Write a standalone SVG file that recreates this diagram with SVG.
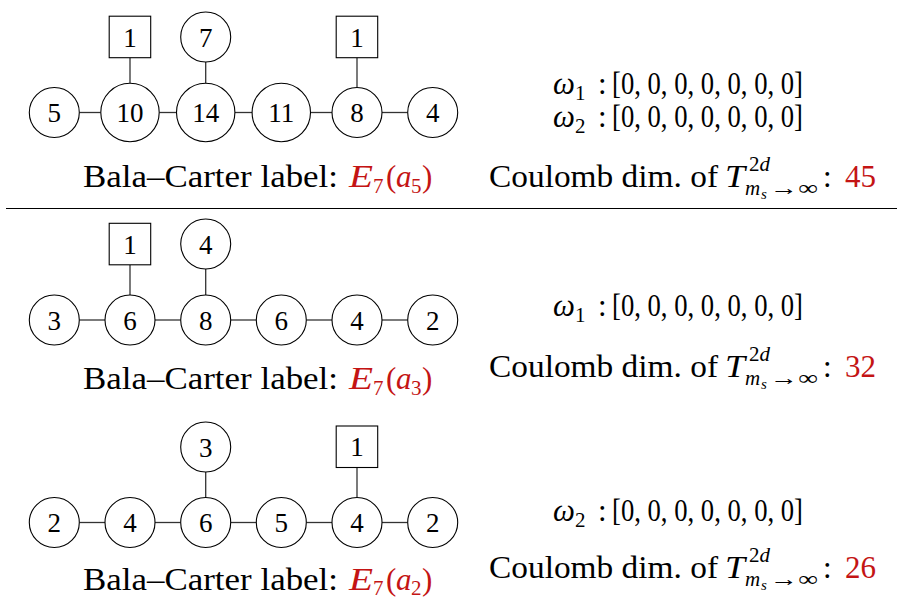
<svg xmlns="http://www.w3.org/2000/svg" width="897" height="600" viewBox="0 0 897 600">
<style>
  text { font-family: "Liberation Serif", "DejaVu Serif", serif; fill: #000; }
  .n { font-size: 27px; text-anchor: middle; }
  .c { fill: #fff; stroke: #000; stroke-width: 1.1; }
  .e { stroke: #333; stroke-width: 1.3; fill: none; }
  .t { font-size: 31px; }
  .m { font-size: 31px; font-style: italic; }
  .s { font-size: 21px; }
  .si { font-size: 21px; font-style: italic; }
  .ss { font-size: 15px; font-style: italic; }
  .red { fill: #c41414; }
</style>
<rect width="897" height="600" fill="#fff"/>

<!-- connectors -->
<g id="connectors">
  <!-- section 1 -->
  <line class="e" x1="79.3" y1="112.5" x2="100.8" y2="112.5"/>
  <line class="e" x1="159.2" y1="112.5" x2="176.5" y2="112.5"/>
  <line class="e" x1="234.9" y1="112.5" x2="252.1" y2="112.5"/>
  <line class="e" x1="310.5" y1="112.5" x2="332" y2="112.5"/>
  <line class="e" x1="382" y1="112.5" x2="407.7" y2="112.5"/>
  <line class="e" x1="130" y1="57.7" x2="130" y2="83.3"/>
  <line class="e" x1="205.7" y1="62" x2="205.7" y2="83.3"/>
  <line class="e" x1="357" y1="57.7" x2="357" y2="87.5"/>
  <!-- section 2 -->
  <line class="e" x1="79.3" y1="320" x2="105" y2="320"/>
  <line class="e" x1="155" y1="320" x2="180.7" y2="320"/>
  <line class="e" x1="230.7" y1="320" x2="256.3" y2="320"/>
  <line class="e" x1="306.3" y1="320" x2="332" y2="320"/>
  <line class="e" x1="382" y1="320" x2="407.7" y2="320"/>
  <line class="e" x1="130" y1="265" x2="130" y2="295"/>
  <line class="e" x1="205.7" y1="269" x2="205.7" y2="295"/>
  <!-- section 3 -->
  <line class="e" x1="79.3" y1="522.5" x2="105" y2="522.5"/>
  <line class="e" x1="155" y1="522.5" x2="180.7" y2="522.5"/>
  <line class="e" x1="230.7" y1="522.5" x2="256.3" y2="522.5"/>
  <line class="e" x1="306.3" y1="522.5" x2="332" y2="522.5"/>
  <line class="e" x1="382" y1="522.5" x2="407.7" y2="522.5"/>
  <line class="e" x1="205.7" y1="472" x2="205.7" y2="497.5"/>
  <line class="e" x1="357" y1="467.7" x2="357" y2="497.5"/>
</g>

<!-- section 1 nodes -->
<g id="s1-n5"><circle class="c" cx="54.3" cy="112.5" r="25"/><text class="n" x="54.3" y="122">5</text></g>
<g id="s1-n10"><circle class="c" cx="130" cy="112.5" r="29.2"/><text class="n" x="130" y="122">10</text></g>
<g id="s1-n14"><circle class="c" cx="205.7" cy="112.5" r="29.2"/><text class="n" x="205.7" y="122">14</text></g>
<g id="s1-n11"><circle class="c" cx="281.3" cy="112.5" r="29.2"/><text class="n" x="281.3" y="122">11</text></g>
<g id="s1-n8"><circle class="c" cx="357" cy="112.5" r="25"/><text class="n" x="357" y="122">8</text></g>
<g id="s1-n4"><circle class="c" cx="432.7" cy="112.5" r="25"/><text class="n" x="432.7" y="122">4</text></g>
<g id="s1-f1a"><rect class="c" x="109.2" y="16.2" width="41.5" height="41.5"/><text class="n" x="130" y="46.5">1</text></g>
<g id="s1-n7"><circle class="c" cx="205.7" cy="37" r="25"/><text class="n" x="205.7" y="46.5">7</text></g>
<g id="s1-f1b"><rect class="c" x="336.2" y="16.2" width="41.5" height="41.5"/><text class="n" x="357" y="46.5">1</text></g>

<!-- section 2 nodes -->
<g id="s2-n3"><circle class="c" cx="54.3" cy="320" r="25"/><text class="n" x="54.3" y="329.5">3</text></g>
<g id="s2-n6a"><circle class="c" cx="130" cy="320" r="25"/><text class="n" x="130" y="329.5">6</text></g>
<g id="s2-n8"><circle class="c" cx="205.7" cy="320" r="25"/><text class="n" x="205.7" y="329.5">8</text></g>
<g id="s2-n6b"><circle class="c" cx="281.3" cy="320" r="25"/><text class="n" x="281.3" y="329.5">6</text></g>
<g id="s2-n4"><circle class="c" cx="357" cy="320" r="25"/><text class="n" x="357" y="329.5">4</text></g>
<g id="s2-n2"><circle class="c" cx="432.7" cy="320" r="25"/><text class="n" x="432.7" y="329.5">2</text></g>
<g id="s2-f1"><rect class="c" x="109.2" y="223.3" width="41.5" height="41.5"/><text class="n" x="130" y="253.5">1</text></g>
<g id="s2-n4top"><circle class="c" cx="205.7" cy="244" r="25"/><text class="n" x="205.7" y="253.5">4</text></g>

<!-- section 3 nodes -->
<g id="s3-n2a"><circle class="c" cx="54.3" cy="522.5" r="25"/><text class="n" x="54.3" y="532">2</text></g>
<g id="s3-n4a"><circle class="c" cx="130" cy="522.5" r="25"/><text class="n" x="130" y="532">4</text></g>
<g id="s3-n6"><circle class="c" cx="205.7" cy="522.5" r="25"/><text class="n" x="205.7" y="532">6</text></g>
<g id="s3-n5"><circle class="c" cx="281.3" cy="522.5" r="25"/><text class="n" x="281.3" y="532">5</text></g>
<g id="s3-n4b"><circle class="c" cx="357" cy="522.5" r="25"/><text class="n" x="357" y="532">4</text></g>
<g id="s3-n2b"><circle class="c" cx="432.7" cy="522.5" r="25"/><text class="n" x="432.7" y="532">2</text></g>
<g id="s3-n3"><circle class="c" cx="205.7" cy="447" r="25"/><text class="n" x="205.7" y="456.5">3</text></g>
<g id="s3-f1"><rect class="c" x="336.2" y="426" width="41.5" height="41.5"/><text class="n" x="357" y="456">1</text></g>

<!-- separator -->
<line x1="6" y1="208.5" x2="897" y2="208.5" stroke="#000" stroke-width="1.2"/>

<!-- Bala-Carter labels -->
<g id="label1">
  <text class="t" x="83" y="187" textLength="255" lengthAdjust="spacingAndGlyphs">Bala–Carter label:</text>
  <text class="m red" x="349" y="187" textLength="24" lengthAdjust="spacingAndGlyphs">E</text><text class="s red" x="373" y="193">7</text>
  <text class="t red" x="386" y="187">(</text><text class="m red" x="396" y="187">a</text><text class="s red" x="411" y="193">5</text><text class="t red" x="422" y="187">)</text>
</g>
<g id="label2">
  <text class="t" x="83" y="389" textLength="255" lengthAdjust="spacingAndGlyphs">Bala–Carter label:</text>
  <text class="m red" x="349" y="389" textLength="24" lengthAdjust="spacingAndGlyphs">E</text><text class="s red" x="373" y="395">7</text>
  <text class="t red" x="386" y="389">(</text><text class="m red" x="396" y="389">a</text><text class="s red" x="411" y="395">3</text><text class="t red" x="422" y="389">)</text>
</g>
<g id="label3">
  <text class="t" x="83" y="590" textLength="255" lengthAdjust="spacingAndGlyphs">Bala–Carter label:</text>
  <text class="m red" x="349" y="590" textLength="24" lengthAdjust="spacingAndGlyphs">E</text><text class="s red" x="373" y="595">7</text>
  <text class="t red" x="386" y="590">(</text><text class="m red" x="396" y="590">a</text><text class="s red" x="411" y="595">2</text><text class="t red" x="422" y="590">)</text>
</g>

<!-- omega lines -->
<g id="omega1-top">
  <text class="m" x="553" y="94">ω</text><text class="s" x="575" y="100">1</text>
  <text class="t" x="598" y="94">:</text>
  <text class="t" x="612" y="94" textLength="191" lengthAdjust="spacingAndGlyphs">[0, 0, 0, 0, 0, 0, 0]</text>
</g>
<g id="omega2-top">
  <text class="m" x="553" y="127">ω</text><text class="s" x="575" y="133">2</text>
  <text class="t" x="598" y="127">:</text>
  <text class="t" x="612" y="127" textLength="191" lengthAdjust="spacingAndGlyphs">[0, 0, 0, 0, 0, 0, 0]</text>
</g>
<g id="omega1-mid">
  <text class="m" x="553" y="316">ω</text><text class="s" x="575" y="322">1</text>
  <text class="t" x="598" y="316">:</text>
  <text class="t" x="612" y="316" textLength="191" lengthAdjust="spacingAndGlyphs">[0, 0, 0, 0, 0, 0, 0]</text>
</g>
<g id="omega2-bot">
  <text class="m" x="553" y="521">ω</text><text class="s" x="575" y="527">2</text>
  <text class="t" x="598" y="521">:</text>
  <text class="t" x="612" y="521" textLength="191" lengthAdjust="spacingAndGlyphs">[0, 0, 0, 0, 0, 0, 0]</text>
</g>

<!-- Coulomb lines -->
<g id="coulomb1">
  <text class="t" x="489" y="187" textLength="229" lengthAdjust="spacingAndGlyphs">Coulomb dim. of</text>
  <text class="m" x="725" y="187" textLength="20" lengthAdjust="spacingAndGlyphs">T</text>
  <text class="s" x="749" y="171">2<tspan font-style="italic">d</tspan></text>
  <text class="si" x="745" y="195">m</text><text class="ss" x="761" y="199">s</text><text class="s" x="770" y="195" textLength="48" lengthAdjust="spacingAndGlyphs">→∞</text>
  <text class="t" x="823" y="187">:</text>
  <text class="t red" x="845" y="187" textLength="31" lengthAdjust="spacingAndGlyphs">45</text>
</g>
<g id="coulomb2">
  <text class="t" x="489" y="377" textLength="229" lengthAdjust="spacingAndGlyphs">Coulomb dim. of</text>
  <text class="m" x="725" y="377" textLength="20" lengthAdjust="spacingAndGlyphs">T</text>
  <text class="s" x="749" y="361">2<tspan font-style="italic">d</tspan></text>
  <text class="si" x="745" y="385">m</text><text class="ss" x="761" y="389">s</text><text class="s" x="770" y="385" textLength="48" lengthAdjust="spacingAndGlyphs">→∞</text>
  <text class="t" x="823" y="377">:</text>
  <text class="t red" x="845" y="377" textLength="31" lengthAdjust="spacingAndGlyphs">32</text>
</g>
<g id="coulomb3">
  <text class="t" x="489" y="578" textLength="229" lengthAdjust="spacingAndGlyphs">Coulomb dim. of</text>
  <text class="m" x="725" y="578" textLength="20" lengthAdjust="spacingAndGlyphs">T</text>
  <text class="s" x="749" y="562">2<tspan font-style="italic">d</tspan></text>
  <text class="si" x="745" y="586">m</text><text class="ss" x="761" y="590">s</text><text class="s" x="770" y="586" textLength="48" lengthAdjust="spacingAndGlyphs">→∞</text>
  <text class="t" x="823" y="578">:</text>
  <text class="t red" x="845" y="578" textLength="31" lengthAdjust="spacingAndGlyphs">26</text>
</g>
</svg>
